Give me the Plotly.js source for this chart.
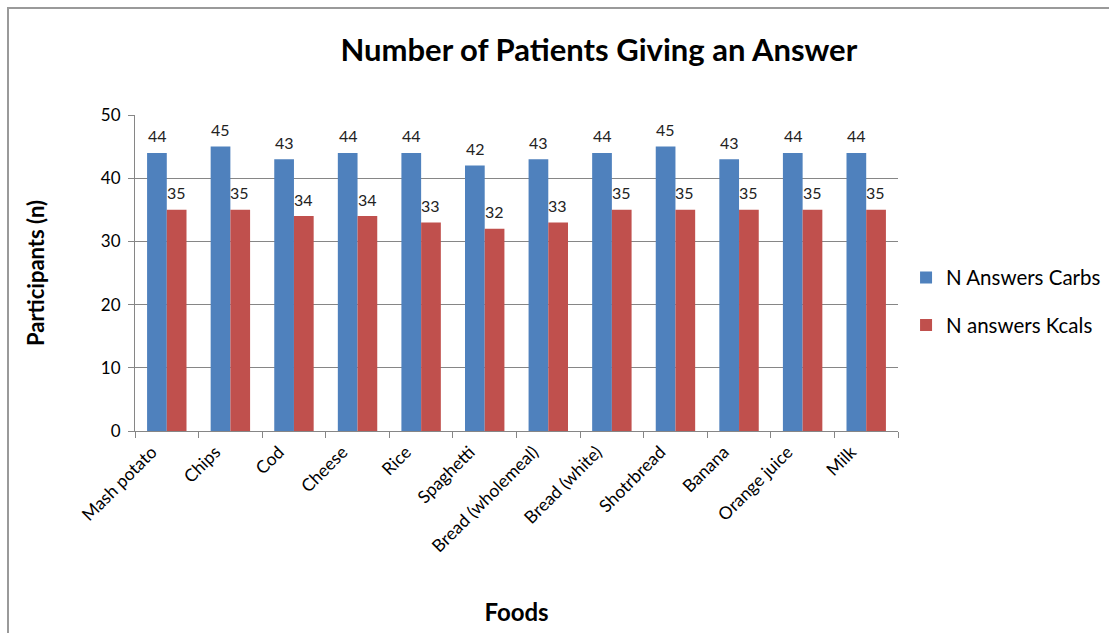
<!DOCTYPE html>
<html>
<head>
<meta charset="utf-8">
<script src="https://cdn.plot.ly/plotly-3.0.1.min.js"></script>
<style>
html,body{margin:0;padding:0;background:#fff;}
#wrap{position:relative;width:1109px;height:633px;}
#chart{position:absolute;left:0;top:0;width:1109px;height:633px;}
#frame{position:absolute;left:7px;top:7px;width:1102px;height:626px;border-top:2px solid #9a9a9a;border-left:2px solid #9a9a9a;box-sizing:border-box;pointer-events:none;}
</style>
</head>
<body>
<div id="wrap"><div id="chart"></div><div id="frame"></div></div>
<script>
const foods = ["Mash potato","Chips","Cod","Cheese","Rice","Spaghetti","Bread (wholemeal)","Bread (white)","Shotrbread","Banana","Orange juice","Milk"];
const carbs = [44,45,43,44,44,42,43,44,45,43,44,44];
const kcals = [35,35,34,34,33,32,33,35,35,35,35,35];
const seriesNames = ["N Answers Carbs","N answers Kcals"];

const FONT = "Lato, 'Open Sans', sans-serif";
const traces = [
  {type:"bar", x:foods, y:carbs, name:seriesNames[0], marker:{color:"#4F81BD"}, offsetgroup:"1", legendgroup:"a"},
  {type:"bar", x:foods, y:kcals, name:seriesNames[1], marker:{color:"#C0504D"}, offsetgroup:"2", legendgroup:"b"}
];
// data labels as annotations placed through the axes (category + value), shifted to sit above the bars
const annotations = [];
function addLabels(vals, xs){
  vals.forEach((v,i)=>{
    annotations.push({x:foods[i], y:v, xref:"x", yref:"y", text:String(v), showarrow:false,
      xshift:xs, yshift:17, font:{size:16, family:FONT, color:"#222"}});
  });
}
addLabels(carbs, -9.5);
addLabels(kcals, 9.5);

const layout = {
  width:1109, height:633,
  margin:{l:135, r:211, t:115, b:202},
  paper_bgcolor:"#fff", plot_bgcolor:"#fff",
  font:{family:FONT, color:"#000"},
  title:{text:"<b>Number of Patients Giving an Answer</b>", font:{size:31, family:FONT, color:"#000"}, x:0.54, xanchor:"center", y:0.92, yanchor:"middle"},
  barmode:"group", bargap:0.38, bargroupgap:0,
  showlegend:true,
  legend:{xref:"container", yref:"container", x:0.817, xanchor:"left", y:0.593, yanchor:"top",
    font:{size:20.5, family:FONT, color:"#000"}, traceorder:"grouped", tracegroupgap:18, itemwidth:30},
  annotations: annotations,
  xaxis:{type:"category", tickangle:-45, tickson:"boundaries", ticks:"outside", ticklen:6, tickcolor:"#868686",
    showline:true, linecolor:"#868686", linewidth:1, tickfont:{size:17.5, family:FONT, color:"#000"},
    ticklabelshift:-15, ticklabelstandoff:3,
    title:{text:"<b>Foods</b>", font:{size:24, family:FONT, color:"#000"}, standoff:48}, automargin:false},
  yaxis:{range:[0,50], dtick:10, showgrid:true, gridcolor:"#868686", gridwidth:1, zeroline:false,
    showline:true, linecolor:"#868686", ticks:"outside", ticklen:6, tickcolor:"#868686",
    tickfont:{size:17, family:FONT, color:"#000"}, ticklabelstandoff:4,
    title:{text:"<b>Participants (n)</b>", font:{size:22, family:FONT, color:"#000"}, standoff:50}, automargin:false}
};
Plotly.newPlot("chart", traces, layout, {displayModeBar:false, staticPlot:true});
</script>
</body>
</html>
